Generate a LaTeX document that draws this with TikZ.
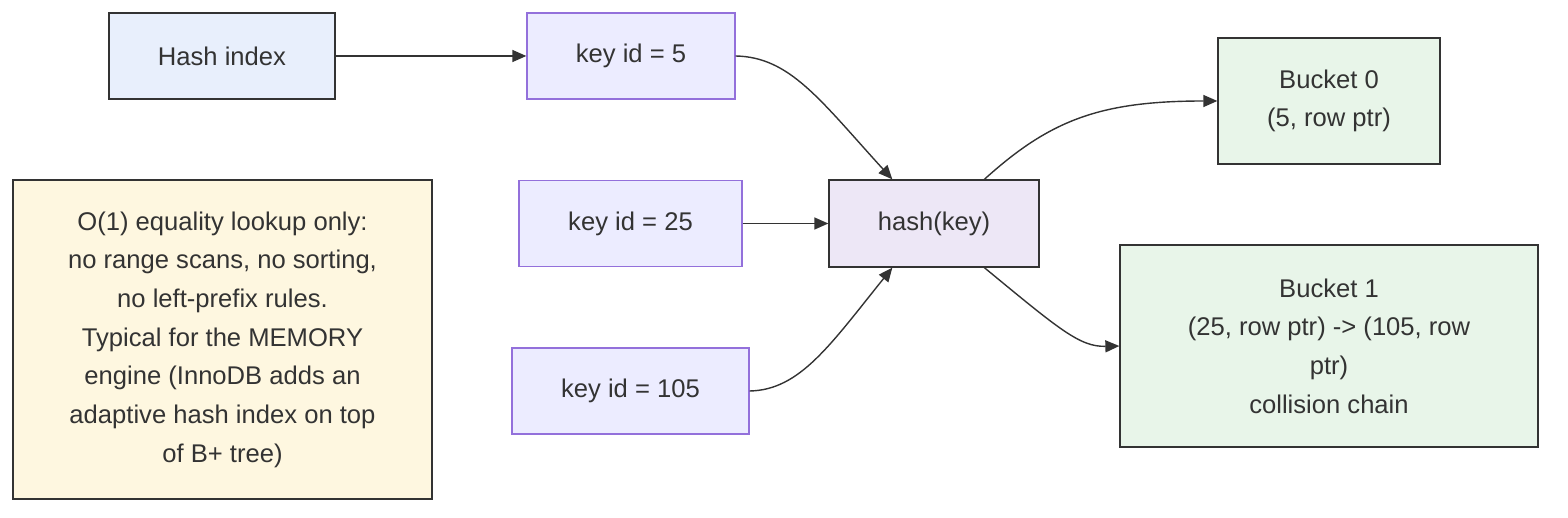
\documentclass[tikz,border=0pt]{standalone}
\usepackage{fontspec}
\setmainfont{Liberation Sans}
\usetikzlibrary{arrows.meta,positioning}
\definecolor{inkgrey}{HTML}{333333}
\definecolor{indexfill}{HTML}{E8EFFC}
\definecolor{keyfill}{HTML}{ECECFF}
\definecolor{keyline}{HTML}{9370DB}
\definecolor{hashfill}{HTML}{EDE7F6}
\definecolor{bucketfill}{HTML}{E8F5E9}
\definecolor{notefill}{HTML}{FEF7E0}

\begin{document}
\begin{tikzpicture}[x=1pt,y=1pt,
  box/.style={draw=inkgrey,line width=1.3pt,inner sep=0pt,align=center,
    text=inkgrey,font=\fontsize{25.6}{38.7}\selectfont},
  indexbox/.style={box,fill=indexfill,minimum width=226,minimum height=86},
  keybox/.style={box,draw=keyline,fill=keyfill,minimum height=86},
  hashbox/.style={box,fill=hashfill,minimum width=210,minimum height=87},
  bucketbox/.style={box,fill=bucketfill},
  notebox/.style={box,fill=notefill,minimum width=419,minimum height=319},
  link/.style={draw=inkgrey,line width=1.4pt,-{Triangle[length=14,width=12]}}]
  \useasboundingbox (0,0) rectangle (1568,-518);
  % nodes
  \node[indexbox] (HI) at (222,-56) {Hash index};
  \node[keybox,minimum width=208] (K5) at (631,-56) {key id = 5};
  \node[keybox,minimum width=223] (K25) at (630.5,-223.5) {key id = 25};
  \node[keybox,minimum width=237] (K105) at (630.5,-391) {key id = 105};
  \node[hashbox] (HK) at (934,-223.5) {hash(key)};
  \node[bucketbox,minimum width=222,minimum height=126] (B0) at (1329,-101)
    {Bucket 0\\(5, row ptr)};
  \node[bucketbox,minimum width=418,minimum height=202] (B1) at (1329,-346)
    {Bucket 1\\(25, row ptr) -> (105, row\\ptr)\\collision chain};
  \node[notebox] (NOTE) at (222.5,-339.5)
    {O(1) equality lookup only:\\no range scans, no sorting,\\no left-prefix rules.\\
     Typical for the MEMORY\\engine (InnoDB adds an\\adaptive hash index on top\\of B+ tree)};
  % entry points on hash(key)
  \coordinate (HKin1) at ([xshift=64]HK.north west);
  \coordinate (HKin3) at ([xshift=64]HK.south west);
  \coordinate (HKout0) at ([xshift=156]HK.north west);
  \coordinate (HKout1) at ([xshift=156]HK.south west);
  % connectors
  \draw[link] (HI) -- (K5);
  \draw[link] (K5.east) .. controls (790,-57) and (820,-100) .. (HKin1);
  \draw[link] (K25) -- (HK);
  \draw[link] (K105.east) .. controls (800,-390) and (830,-345) .. (HKin3);
  \draw[link] (HKout0) .. controls (1050,-120) and (1100,-101) .. (B0.west);
  \draw[link] (HKout1) .. controls (1060,-330) and (1080,-347) .. (B1.west);
\end{tikzpicture}
\end{document}
